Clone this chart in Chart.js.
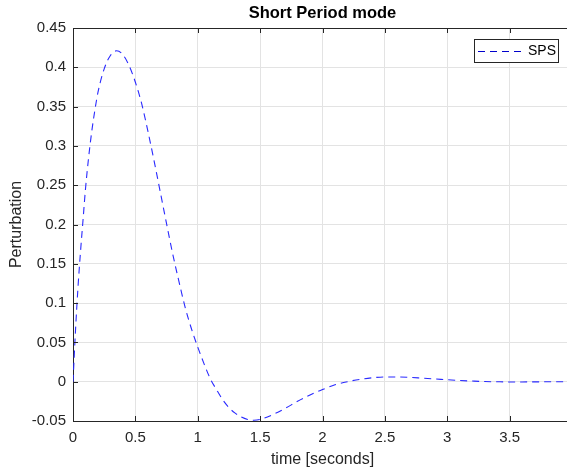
<!DOCTYPE html>
<html lang="en">
<head>
<meta charset="UTF-8">
<title>Short Period mode</title>
<style>
  html, body { margin: 0; padding: 0; background: #fff; overflow: hidden; }
  #wrap { width: 572px; height: 472px; position: relative; }
</style>
</head>
<body>
<div id="wrap"><canvas id="chart"></canvas></div>

<script src="https://cdn.jsdelivr.net/npm/chart.js"></script>
<script>
  // time [s] and response
  const timeSec = [0, 0.02, 0.04, 0.06, 0.08, 0.10, 0.125, 0.15, 0.175, 0.2, 0.25, 0.3, 0.35, 0.4, 0.45, 0.5,
    0.55, 0.6, 0.65, 0.7, 0.75, 0.8, 0.85, 0.9, 0.95, 1.0, 1.05, 1.1, 1.15, 1.2, 1.25, 1.3, 1.35, 1.4,
    1.45, 1.5, 1.6, 1.7, 1.8, 1.9, 2.0, 2.1, 2.2, 2.3, 2.4, 2.5, 2.6, 2.7, 2.8, 2.9, 3.0, 3.1, 3.2,
    3.3, 3.4, 3.5, 3.6, 3.7, 3.8, 3.9, 4.0];
  const sps = [0, 0.065, 0.12, 0.165, 0.205, 0.245, 0.285, 0.318, 0.345, 0.368, 0.398, 0.415, 0.421, 0.416, 0.402, 0.381,
    0.354, 0.319, 0.281, 0.241, 0.201, 0.162, 0.127, 0.094, 0.067, 0.044, 0.023, 0.004, -0.010, -0.023, -0.033, -0.040, -0.045, -0.048,
    -0.049, -0.048, -0.042, -0.034, -0.025, -0.017, -0.010, -0.004, 0.000, 0.003, 0.005, 0.006, 0.006, 0.0055, 0.0045, 0.0035, 0.0025, 0.0015, 0.0008,
    0.0002, -0.0001, -0.0003, -0.0003, -0.0002, -0.0001, 0, 0];
  const seriesName = 'SPS';
  const xTicks = [0, 0.5, 1, 1.5, 2, 2.5, 3, 3.5, 4];
  const yTicks = [-0.05, 0, 0.05, 0.1, 0.15, 0.2, 0.25, 0.3, 0.35, 0.4, 0.45];

  const axisColor = '#262626';
  const gridColor = '#e3e3e3';
  const fontFam = '"Liberation Sans", Arial, Helvetica, sans-serif';
  const fmt = v => String(+Number(v).toFixed(2));

  // MATLAB-like ticks pointing into the plot box
  const innerTicks = {
    id: 'innerTicks',
    afterDatasetsDraw(chart) {
      const {ctx, chartArea: a, scales} = chart;
      ctx.save();
      ctx.strokeStyle = axisColor;
      ctx.lineWidth = 1;
      ctx.beginPath();
      xTicks.forEach(v => {
        const px = Math.round(scales.x.getPixelForValue(v)) + 0.5;
        ctx.moveTo(px, a.bottom); ctx.lineTo(px, a.bottom - 5);
        ctx.moveTo(px, a.top); ctx.lineTo(px, a.top + 5);
      });
      yTicks.forEach(v => {
        const py = Math.round(scales.y.getPixelForValue(v)) + 0.5;
        ctx.moveTo(a.left, py); ctx.lineTo(a.left + 5, py);
      });
      ctx.stroke();
      ctx.restore();
    }
  };

  // boxed legend inside the axes, top right
  const boxLegend = {
    id: 'boxLegend',
    afterDraw(chart) {
      const {ctx, chartArea: a} = chart;
      const ds = chart.data.datasets[0];
      const w = 84, h = 23;
      const x0 = a.right - 14 - w, y0 = a.top + 11;
      ctx.save();
      ctx.fillStyle = '#fff';
      ctx.fillRect(x0, y0, w, h);
      ctx.strokeStyle = axisColor;
      ctx.lineWidth = 1;
      ctx.strokeRect(x0 + 0.5, y0 + 0.5, w, h);
      ctx.strokeStyle = '#0000cc';
      ctx.lineWidth = ds.borderWidth;
      ctx.setLineDash(ds.borderDash);
      ctx.beginPath();
      ctx.moveTo(x0 + 4, y0 + 12.5);
      ctx.lineTo(x0 + 52, y0 + 12.5);
      ctx.stroke();
      ctx.setLineDash([]);
      ctx.fillStyle = '#000';
      ctx.font = '14px ' + fontFam;
      ctx.textBaseline = 'middle';
      ctx.fillText(ds.label, x0 + 54, y0 + 12.5);
      ctx.restore();
    }
  };

  function noSidePad(scale) {
    scale.paddingLeft = 0;
    scale.paddingRight = 0;
  }

  new Chart(document.getElementById('chart'), {
    type: 'line',
    data: {
      datasets: [{
        label: seriesName,
        data: timeSec.map((t, i) => ({x: t, y: sps[i]})),
        borderColor: '#2a2aff',
        borderWidth: 1.1,
        borderDash: [7, 5],
        pointRadius: 0,
        fill: false,
        tension: 0.4,
        cubicInterpolationMode: 'monotone'
      }]
    },
    options: {
      responsive: true,
      maintainAspectRatio: false,
      animation: false,
      layout: { padding: 0 },
      plugins: {
        legend: { display: false },
        title: { display: false },
        tooltip: { enabled: false }
      },
      scales: {
        x: {
          type: 'linear',
          position: 'bottom',
          min: 0, max: 4,
          afterBuildTicks: s => { s.ticks = xTicks.map(v => ({value: v})); },
          afterFit: s => { s.height = 51; noSidePad(s); },
          grid: { color: gridColor, drawTicks: false },
          border: { color: axisColor, width: 1 },
          ticks: { color: axisColor, padding: 8, maxRotation: 0, font: { family: fontFam, size: 15 }, callback: fmt },
          title: { display: true, text: 'time [seconds]', color: axisColor, padding: { top: 0, bottom: 3 }, font: { family: fontFam, size: 16 } }
        },
        top: {
          type: 'linear',
          position: 'top',
          min: 0, max: 4,
          afterFit: s => { s.height = 28; noSidePad(s); },
          grid: { display: false, drawTicks: false },
          border: { color: axisColor, width: 1 },
          ticks: { display: false },
          title: { display: true, text: 'Short Period mode', color: '#000', padding: { top: 4, bottom: 0 }, font: { family: fontFam, size: 16.5, weight: 'bold' } }
        },
        y: {
          type: 'linear',
          min: -0.05, max: 0.45,
          afterBuildTicks: s => { s.ticks = yTicks.map(v => ({value: v})); },
          afterFit: s => { s.width = 73; },
          grid: { color: gridColor, drawTicks: false },
          border: { color: axisColor, width: 1 },
          ticks: { color: axisColor, padding: 7, font: { family: fontFam, size: 15 }, callback: fmt },
          title: { display: true, text: 'Perturbation', color: axisColor, padding: { top: 7, bottom: 0 }, font: { family: fontFam, size: 16 } }
        }
      }
    },
    plugins: [innerTicks, boxLegend]
  });
</script>
</body>
</html>
